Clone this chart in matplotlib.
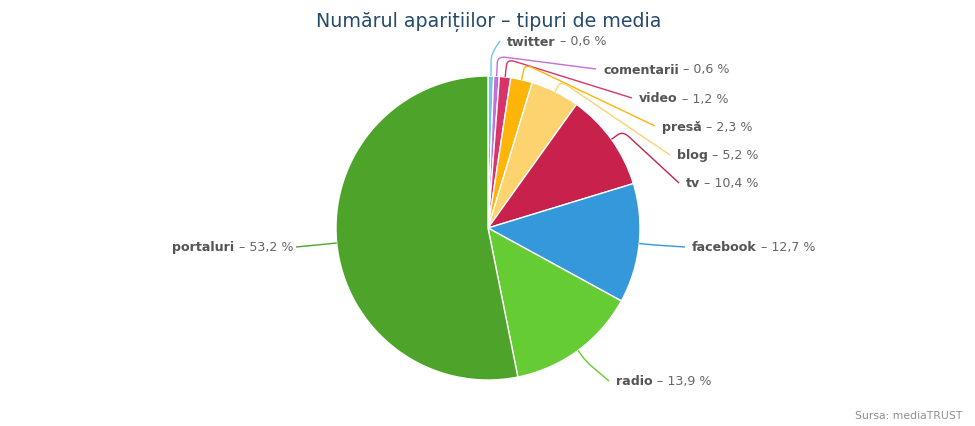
import matplotlib
matplotlib.use('Agg')
import matplotlib.pyplot as plt
import numpy as np
from matplotlib.path import Path
from matplotlib.patches import PathPatch

# ---- data ----
categories = ['twitter', 'comentarii', 'video', 'presă', 'blog', 'tv', 'facebook', 'radio', 'portaluri']
values = [0.6, 0.6, 1.2, 2.3, 5.2, 10.4, 12.7, 13.9, 53.2]
colors = ['#72c6ee', '#c46fd6', '#d8346a', '#ffb40a', '#fcd36e', '#c8214b', '#3598db', '#66cc33', '#4ea42a']

title = 'Numărul aparițiilor – tipuri de media'
credit = 'Sursa: mediaTRUST'

# ---- layout (pixel positions of label anchors) ----
label_x = [507, 603, 639, 662, 677, 686, 692, 616, 293]
label_y = [42, 70, 99, 127, 156, 184, 248, 382, 248]
label_side = ['r', 'r', 'r', 'r', 'r', 'r', 'r', 'r', 'l']
radial_ext = [22, 20, 18, 16, 12, 14, 14, 14, 12]

W, H = 975, 427
fig = plt.figure(figsize=(W / 100, H / 100), dpi=100)
ax = fig.add_axes([0, 0, 1, 1])
cx, cy, R = 488, 229, 152

ax.pie(values, colors=colors, startangle=270, counterclock=True,
       center=(cx, cy), radius=R, frame=True,
       wedgeprops=dict(edgecolor='white', linewidth=1))
ax.set_xlim(0, W)
ax.set_ylim(H, 0)
ax.set_aspect('equal')
ax.axis('off')

total = sum(values)
cum = 0.0
name_color = '#555555'
val_color = '#666666'
fs = 9.1
for i, (name, v) in enumerate(zip(categories, values)):
    frac = (cum + v / 2) / total
    cum += v
    th = 2 * np.pi * frac
    ux, uy = np.sin(th), -np.cos(th)
    A = np.array([cx + R * ux, cy + R * uy])
    B = np.array([cx + (R + radial_ext[i]) * ux, cy + (R + radial_ext[i]) * uy])
    if label_side[i] == 'r':
        E = np.array([label_x[i] - 7, label_y[i]])
    else:
        E = np.array([label_x[i] + 3, label_y[i]])
    dAB = B - A
    B1 = B - dAB / np.linalg.norm(dAB) * min(6, np.linalg.norm(dAB) * 0.5)
    dBE = E - B
    B2 = B + dBE / np.linalg.norm(dBE) * min(8, np.linalg.norm(dBE) * 0.5)
    path = Path([A, B1, B, B2, E],
                [Path.MOVETO, Path.LINETO, Path.CURVE3, Path.CURVE3, Path.LINETO])
    ax.add_patch(PathPatch(path, facecolor='none', edgecolor=colors[i], linewidth=1))

    val_txt = ' – ' + f'{v:.1f}'.replace('.', ',') + ' %'
    if label_side[i] == 'r':
        t1 = ax.text(label_x[i], label_y[i], name, fontsize=fs, fontweight='bold',
                     color=name_color, ha='left', va='center')
        ax.annotate(val_txt, xy=(1, 0), xycoords=t1, fontsize=fs, color=val_color,
                    ha='left', va='bottom')
    else:
        t2 = ax.text(label_x[i], label_y[i], val_txt, fontsize=fs,
                     color=val_color, ha='right', va='center')
        ax.annotate(name, xy=(0, 0), xycoords=t2, fontsize=fs, fontweight='bold',
                    color=name_color, ha='right', va='bottom')

ax.text(488.5, 22, title, fontsize=13.7, color='#274b6d', ha='center', va='center')
ax.text(962, 416, credit, fontsize=7.8, color='#909090', ha='right', va='center')

fig.savefig('out.png', dpi=100)
